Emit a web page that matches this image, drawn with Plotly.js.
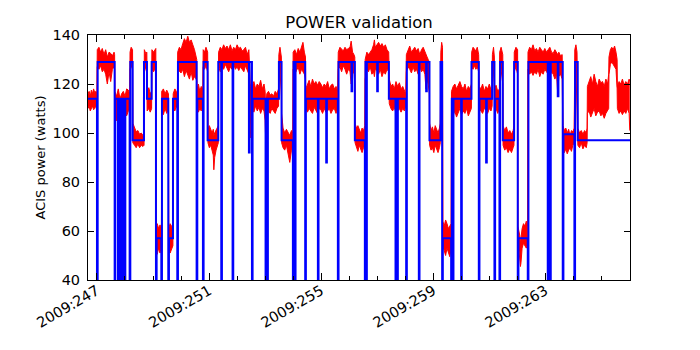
<!DOCTYPE html>
<html>
<head>
<meta charset="utf-8">
<script src="https://cdn.plot.ly/plotly-3.0.1.min.js"></script>
<style>
  html, body { margin: 0; padding: 0; background: #fff; }
  #chart { width: 700px; height: 350px; }
</style>
</head>
<body>
<div id="chart"></div>
<script>
// telemetry (red): day of year 2009, upper and lower edge of the noisy band, watts
const redDay = [
  246.68, 246.72, 246.76, 246.80, 246.84, 246.88, 246.92, 246.96, 247.00,
  247.01, 247.07, 247.13, 247.19, 247.25, 247.31, 247.37, 247.43, 247.49, 247.55, 247.61, 247.63,
  247.64, 247.70, 247.76, 247.82, 247.88, 247.94, 248.00, 248.06, 248.12, 248.17,
  248.18, 248.22, 248.27,
  248.28, 248.34, 248.40, 248.46, 248.52, 248.58, 248.64, 248.68,
  248.69, 248.74, 248.78,
  248.79, 248.85, 248.90, 248.95,
  248.96, 249.02, 249.10,
  249.11, 249.15, 249.20, 249.25, 249.30,
  249.31, 249.37, 249.43, 249.49, 249.55,
  249.56, 249.61, 249.66, 249.71,
  249.72, 249.78, 249.83, 249.87,
  249.88, 249.94, 250.00, 250.06, 250.12, 250.18, 250.24, 250.30, 250.36, 250.42, 250.48, 250.54, 250.56,
  250.57, 250.62, 250.67, 250.72, 250.78,
  250.79, 250.84, 250.89, 250.95,
  250.96, 251.01, 251.06, 251.11, 251.15, 251.17, 251.20, 251.25, 251.30, 251.33,
  251.34, 251.40, 251.46, 251.52, 251.58, 251.64, 251.70, 251.76, 251.82, 251.88, 251.94, 252.00, 252.06, 252.12, 252.18, 252.24, 252.30, 252.36, 252.42,
  252.43, 252.47, 252.51,
  252.54, 252.60, 252.66, 252.72, 252.78, 252.84, 252.90, 252.96, 253.00, 253.02, 253.06, 253.12, 253.18, 253.24, 253.30, 253.36, 253.42, 253.48,
  253.49, 253.53, 253.58,
  253.59, 253.64, 253.70, 253.76, 253.82, 253.88, 253.94, 253.99,
  254.00, 254.06, 254.12, 254.18, 254.24, 254.30, 254.35, 254.40, 254.44,
  254.45, 254.51, 254.57, 254.63, 254.69, 254.75, 254.81, 254.87, 254.93, 254.99, 255.05, 255.11, 255.17, 255.23, 255.29, 255.35, 255.41, 255.47, 255.53, 255.59,
  255.61, 255.67, 255.73, 255.79, 255.85, 255.91, 255.97, 256.03, 256.07, 256.12, 256.17, 256.20,
  256.21, 256.26, 256.31, 256.36, 256.41, 256.46, 256.51, 256.56,
  256.57, 256.63, 256.69, 256.75, 256.81, 256.87, 256.90, 256.93, 256.99, 257.05, 257.11, 257.17, 257.23, 257.29, 257.35, 257.41,
  257.43, 257.49, 257.55, 257.61, 257.67, 257.73, 257.79, 257.85, 257.91, 257.97, 258.02,
  258.04, 258.10, 258.16, 258.22, 258.28, 258.34, 258.40, 258.46, 258.52, 258.58, 258.64, 258.70, 258.74, 258.78, 258.82, 258.86,
  258.87, 258.92, 258.97, 259.02, 259.07, 259.12, 259.17, 259.22, 259.25,
  259.27, 259.30, 259.33,
  259.34, 259.39, 259.44, 259.49, 259.54, 259.59, 259.64,
  259.65, 259.71, 259.77, 259.83, 259.89, 259.95, 260.01, 260.07, 260.13, 260.19, 260.25, 260.31, 260.36,
  260.37, 260.42, 260.47, 260.52, 260.57, 260.62,
  260.64, 260.70, 260.76, 260.82, 260.88, 260.94, 261.00, 261.06, 261.10,
  261.11, 261.15, 261.18,
  261.19, 261.24, 261.30, 261.36,
  261.37, 261.42, 261.48,
  261.49, 261.55, 261.61, 261.67, 261.73, 261.79, 261.85, 261.88,
  261.89, 261.95, 262.01,
  262.02, 262.06, 262.09, 262.11, 262.13, 262.17, 262.22, 262.27, 262.32, 262.37,
  262.38, 262.44, 262.50, 262.56, 262.62, 262.68, 262.74, 262.80, 262.86, 262.92, 262.98, 263.04, 263.10, 263.16, 263.22, 263.28, 263.34, 263.40, 263.44, 263.48, 263.54, 263.60,
  263.63, 263.68, 263.73, 263.78, 263.83, 263.88, 263.93, 263.98, 264.03,
  264.05, 264.09, 264.13,
  264.16, 264.22, 264.28, 264.34, 264.40, 264.46, 264.49,
  264.50, 264.56, 264.62, 264.68, 264.74, 264.80, 264.86, 264.92, 264.98, 265.04, 265.10, 265.16, 265.22, 265.26,
  265.27, 265.32, 265.37, 265.42, 265.47, 265.52, 265.56,
  265.57, 265.63, 265.69, 265.75, 265.81, 265.87, 265.93, 265.99, 266.01
];
const redHi = [
  116, 117, 115, 117.5, 116, 118, 116.5, 117, 116,
  134, 135, 133, 134.5, 132, 134, 131, 133, 132.5, 131.5, 133, 132,
  117, 115, 118, 114, 116, 117, 115, 118, 117.5, 116,
  133, 135, 134,
  104, 102, 100.5, 101, 99.5, 100, 99, 100,
  134, 132.5, 133,
  117, 118.5, 116, 117,
  134, 133, 134.5,
  62, 63, 61, 62.5, 61,
  117, 118, 116, 117.5, 116,
  61, 63, 62, 60,
  116, 118, 117, 115.5,
  133, 135, 134, 136.5, 138.5, 137, 139.5, 137, 138, 136, 134, 131, 130,
  118, 120, 117, 119, 118,
  134, 133, 135, 133,
  102, 103, 101, 100, 101.5, 99, 100, 101, 102.5, 103,
  133, 135, 134, 136, 134.5, 135.5, 134, 136, 133.5, 135, 134, 136, 134.5, 135, 133.5, 134, 135, 132, 134,
  130, 120, 118,
  119, 121, 118, 120, 119, 121.5, 118, 120, 117, 110, 116, 117, 115.5, 116, 115, 117, 116, 118,
  132, 135, 131,
  108, 102, 100, 101.5, 100, 99, 101, 100,
  133, 134, 132, 134.5, 133, 135, 137, 133, 131,
  118, 120, 121.5, 119, 122, 120, 121, 119.5, 121, 120, 118.5, 120, 119, 121, 118, 119.5, 120, 118, 119, 117,
  133, 135, 134, 133.5, 135, 134, 134.5, 135, 137.5, 133, 132, 131,
  104, 102, 103, 101, 100, 102, 101, 103,
  130, 133, 132, 133, 134, 136, 138, 135, 136, 137, 135.5, 136.5, 135, 136, 134, 133,
  122, 119, 120, 118, 121, 119, 120.5, 118, 119, 117, 116,
  132, 134, 135.5, 133, 134, 135, 133.5, 134.5, 132, 134, 135, 133, 132, 131, 130, 129,
  104, 101, 102.5, 100, 103, 101, 100, 102, 104,
  133, 137, 135,
  64, 62, 64.5, 63, 61, 62, 63,
  117, 119, 120, 118, 119.5, 121, 119, 118, 120, 117, 119, 118, 120,
  133, 135, 134, 133.5, 135, 132,
  119, 118, 120, 117, 119, 118, 120, 117.5, 118,
  132, 135, 131,
  118, 119.5, 117, 118,
  133, 135, 132,
  103, 101, 102.5, 100, 101, 99.5, 101, 103,
  133, 135, 134,
  62, 60, 58, 55, 57, 61, 63, 62, 64, 62,
  133, 135, 134, 136, 133.5, 134.5, 133, 135, 134, 133, 134.5, 133, 134, 135, 133, 132.5, 134, 133, 132, 133, 131.5, 132,
  103, 101, 102, 100, 101.5, 99, 101, 100.5, 102,
  134, 136, 133,
  102, 100, 101, 99.5, 101, 100, 102,
  119, 121, 123, 120, 124, 121, 119, 122, 120.5, 121, 119, 122, 120, 124,
  131, 134, 135, 134, 135.5, 133, 130,
  119, 121, 120, 122, 119.5, 121, 120, 122, 121
];
const redLo = [
  110, 111, 109, 110.5, 111, 109.5, 110, 111, 110,
  127, 126, 127.5, 125, 126, 124, 120, 125, 121, 126, 127, 126,
  108, 105, 107, 104.5, 109, 106, 108, 107, 109, 110,
  126, 127.5, 126,
  96, 95, 94, 95.5, 94, 95, 94.5, 95,
  125, 127, 124,
  109, 110, 108.5, 110,
  126, 125, 127,
  52, 50.5, 53, 51, 54,
  109, 107.5, 110, 108, 110,
  53, 51, 52.5, 54,
  110, 109, 111, 110,
  126, 125, 124.5, 126, 123, 125.5, 124, 122, 125, 121.5, 123, 122, 121,
  110, 108.5, 110, 109, 111,
  127, 126, 127.5, 125,
  96, 94, 95, 92, 91, 85, 90, 93, 95, 96,
  127, 125, 127, 126, 128, 126.5, 125, 127, 126, 128, 126, 127, 125.5, 127, 126, 125, 127.5, 126, 124,
  100, 98, 108,
  110, 108.5, 111, 109, 110.5, 108, 110, 109, 105, 97, 107, 109, 108, 110, 109, 108, 110, 111,
  120, 126, 115,
  96, 94, 93, 95, 92, 88, 93, 95,
  126, 124, 125.5, 127, 124, 126, 125, 124, 122,
  110, 108.5, 110, 109, 108, 110.5, 109, 108, 110, 109.5, 108, 110, 108.5, 109, 110, 108, 109.5, 110, 108, 110,
  126, 127, 125, 127.5, 126, 124, 126, 125, 120, 124, 125, 120,
  96, 94, 92.5, 95, 93, 92, 94, 95,
  122, 126, 125, 127, 124, 125, 123, 126, 125.5, 124, 126, 123, 125, 124, 126, 125,
  112, 110, 109, 110.5, 108, 109, 110, 108.5, 110, 109, 111,
  125, 127, 126, 124.5, 127, 125, 126, 124, 127, 125, 126, 124, 118, 122, 120, 116,
  95, 93, 94, 92, 95, 93.5, 92, 94, 96,
  124, 128, 126,
  54, 52, 50, 53, 51, 49.5, 53,
  108, 107, 109, 106.5, 108, 110, 107.5, 109, 108, 110, 107, 109, 110,
  127, 126, 127.5, 126, 127, 125,
  110, 109, 108, 110, 109.5, 108, 110, 109, 111,
  120, 126, 118,
  109, 110, 108, 110,
  124, 126, 120,
  95, 93, 94, 92, 93.5, 92, 94, 95,
  125, 127, 124,
  54, 52, 48, 45.5, 47, 53, 55, 54, 53, 55,
  126, 124, 125, 123.5, 125, 124, 126, 123, 125, 124, 126, 125, 124, 123, 125, 124, 122, 124, 116, 123, 124, 122,
  94, 92, 93.5, 91.5, 93, 94, 92.5, 95, 96,
  124, 127, 110,
  95, 94, 96, 93.5, 95, 94, 96,
  108, 109, 106.5, 108, 110, 107, 108.5, 109, 107, 108, 106, 108, 109, 110,
  124, 128, 129, 128, 127.5, 126, 118,
  110, 108, 109, 107.5, 109, 108, 110, 108, 101
];

// model (blue): step starts, day of year 2009, watts (0 = drops off the bottom)
const blueDay = [
  246.68, 247.000, 247.025, 247.631, 247.655, 247.750, 247.774, 247.833, 247.857, 247.905,
  247.928, 247.988, 248.012, 248.166, 248.190, 248.273, 248.677, 248.784, 248.951, 249.105,
  249.129, 249.296, 249.319, 249.545, 249.569, 249.712, 249.866, 249.890, 250.556, 250.580,
  250.781, 250.805, 250.948, 251.328, 251.435, 251.459, 251.839, 251.863, 252.422, 252.445,
  252.530, 252.553, 253.016, 253.040, 253.076, 253.099, 253.492, 253.587, 253.991, 254.015,
  254.062, 254.086, 254.430, 254.455, 254.883, 254.906, 255.180, 255.204, 255.596, 255.620,
  256.083, 256.107, 256.202, 256.559, 256.583, 256.606, 256.630, 256.999, 257.022, 257.415,
  257.653, 257.676, 257.712, 257.736, 258.033, 258.057, 258.485, 258.509, 258.746, 258.770,
  258.865, 259.258, 259.317, 259.341, 259.638, 259.662, 259.697, 259.721, 259.995, 260.018,
  260.363, 260.625, 260.648, 260.886, 260.910, 261.100, 261.183, 261.207, 261.362, 261.385,
  261.480, 261.885, 262.015, 262.039, 262.372, 262.396, 263.085, 263.109, 263.169, 263.192,
  263.442, 263.466, 263.620, 263.644, 264.036, 264.060, 264.155, 266.02
];
const blueWatts = [
  114, 0, 129, 0, 114, 0, 114, 0, 114, 0,
  114, 0, 114, 0, 129, 97, 129, 114, 129, 0,
  57, 0, 114, 0, 57, 114, 0, 129, 0, 114,
  0, 129, 97, 129, 0, 129, 0, 129, 92, 129,
  0, 114, 0, 114, 0, 114, 129, 97, 0, 129,
  0, 129, 0, 114, 0, 114, 88, 114, 0, 129,
  117, 129, 97, 0, 129, 0, 129, 117, 129, 114,
  0, 114, 0, 114, 0, 129, 0, 129, 117, 129,
  97, 129, 0, 57, 0, 114, 0, 114, 0, 114,
  129, 0, 114, 88, 114, 129, 0, 114, 0, 129,
  97, 129, 0, 57, 0, 129, 0, 129, 0, 129,
  115, 129, 0, 99.5, 0, 129, 97, 97
];

if (redDay.length !== redHi.length || redDay.length !== redLo.length) {
  console.log("red arrays differ", redDay.length, redHi.length, redLo.length);
}
if (blueDay.length !== blueWatts.length) {
  console.log("blue arrays differ", blueDay.length, blueWatts.length);
}

const font = "DejaVu Sans, Liberation Sans, sans-serif";

var redLow = {
  x: redDay,
  y: redLo,
  type: 'scatter',
  mode: 'lines',
  line: { color: 'red', width: 1 },
  hoverinfo: 'skip'
};

var redHigh = {
  x: redDay,
  y: redHi,
  type: 'scatter',
  mode: 'lines',
  fill: 'tonexty',
  fillcolor: 'red',
  line: { color: 'red', width: 1 },
  hoverinfo: 'skip'
};

var model = {
  x: blueDay,
  y: blueWatts,
  type: 'scatter',
  mode: 'lines',
  line: { color: 'blue', width: 2, shape: 'hv' }
};

var layout = {
  width: 700,
  height: 350,
  margin: { l: 88, r: 70, t: 35, b: 70 },
  paper_bgcolor: 'white',
  plot_bgcolor: 'white',
  showlegend: false,
  font: { family: font, color: 'black', size: 14 },
  title: {
    text: 'POWER validation',
    font: { family: font, size: 16.5, color: 'black' },
    x: 0.5,
    xref: 'paper',
    y: 1 - 22 / 350,
    yref: 'container',
    yanchor: 'middle'
  },
  xaxis: {
    range: [246.68, 266.02],
    tickmode: 'linear',
    tick0: 247,
    dtick: 4,
    tickprefix: '2009:',
    tickangle: -30,
    ticks: 'inside',
    ticklen: 7,
    tickcolor: 'black',
    tickfont: { size: 14.5 },
    ticklabelstandoff: -4,
    showline: true,
    linecolor: 'black',
    linewidth: 1,
    mirror: 'ticks',
    showgrid: false,
    zeroline: false,
    minor: { ticks: 'inside', ticklen: 4, tickcolor: 'black', tick0: 247, dtick: 1, showgrid: false }
  },
  yaxis: {
    range: [40, 140],
    tickmode: 'linear',
    tick0: 40,
    dtick: 20,
    ticks: 'inside',
    ticklen: 6,
    tickcolor: 'black',
    tickfont: { size: 14.5 },
    ticklabelstandoff: 4,
    showline: true,
    linecolor: 'black',
    linewidth: 1,
    mirror: 'ticks',
    showgrid: false,
    zeroline: false,
    title: { text: 'ACIS power (watts)', font: { size: 13 }, standoff: 3 }
  }
};

Plotly.newPlot('chart', [redLow, redHigh, model], layout, { staticPlot: true });
</script>
</body>
</html>
